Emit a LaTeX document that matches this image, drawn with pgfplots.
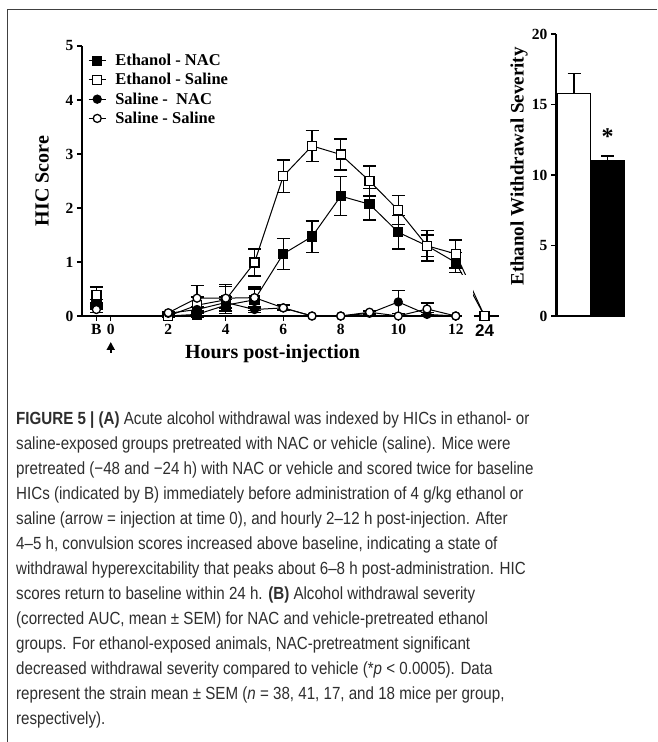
\documentclass[border=0pt]{standalone}
\usepackage{fontspec}
\setmainfont{Liberation Serif}
\newfontfamily\capfont[FakeStretch=0.86]{Liberation Sans}
\newfontfamily\sansb{Liberation Sans}
\usepackage{pgfplots}
\pgfplotsset{compat=1.18}
\usetikzlibrary{arrows.meta}

\pgfplotstableread{
x y e
-0.5 0.25 0.05
1 nan 0
2 0.00 0.03
3 0.03 0.05
4 0.20 0.10
5 0.30 0.20
6 1.15 0.29
7 1.47 0.29
8 2.22 0.36
9 2.07 0.29
10 1.55 0.31
11 1.30 0.20
12 0.99 0.19
13 0.00 0
}\EN
\pgfplotstableread{
x y e
-0.5 0.39 0.15
1 nan 0
2 0.00 0.03
3 0.20 0.15
4 0.30 0.25
5 0.99 0.25
6 2.59 0.30
7 3.15 0.29
8 2.99 0.29
9 2.50 0.28
10 1.96 0.27
11 1.30 0.28
12 1.15 0.26
13 0.00 0
}\ES
\pgfplotstableread{
x y e
-0.5 0.18 0.05
1 nan 0
2 0.05 0.02
3 0.12 0.05
4 0.25 0.10
5 0.12 0.05
6 0.15 0.04
7 0.00 0
8 0.00 0
9 0.05 0.03
10 0.26 0.21
11 0.03 0.03
12 0.00 0
}\SN
\pgfplotstableread{
x y e
-0.5 0.12 0.05
1 nan 0
2 0.06 0.02
3 0.33 0.23
4 0.33 0.25
5 0.34 0.20
6 0.15 0.05
7 0.00 0
8 0.00 0
9 0.07 0.03
10 0.00 0
11 0.13 0.11
12 0.00 0
}\SS

\begin{document}
\begin{tikzpicture}
\useasboundingbox (0pt,0pt) rectangle (657pt,742pt);
\draw[line width=0.9pt, black!75] (657pt,732.5pt) -- (7.5pt,732.5pt) -- (7.5pt,0pt);

\begin{axis}[
  at={(82pt,426pt)}, anchor=south west,
  scale only axis, width=416.9pt, height=270pt,
  xmin=-1, xmax=13.5, ymin=0, ymax=5,
  axis lines*=left,
  x axis line style={draw=none},
  y axis line style={line width=1.4pt},
  clip=false,
  tick align=outside, major tick length=5pt,
  tick style={black, line width=1.3pt},
  xtick={-0.5,0,2,4,6,8,10,12,13},
  xticklabels={B,0,2,4,6,8,10,12,{\sansb\bfseries\fontsize{17}{17}\selectfont 24}},
  ytick={0,1,2,3,4,5},
  /pgf/number format/assume math mode=true,
  tick label style={font=\bfseries\fontsize{15.5}{15.5}\selectfont},
  xlabel={Hours post-injection},
  ylabel={HIC Score},
  label style={font=\bfseries\fontsize{20}{20}\selectfont},
  x label style={at={(rel axis cs:0.457,0)}, anchor=base, yshift=-43pt},
  y label style={at={([xshift=-40pt]rel axis cs:0,0.5)}, anchor=center},
  unbounded coords=jump,
  legend style={draw=none, fill=none, at={([xshift=6pt,yshift=-6pt]rel axis cs:0,1)}, anchor=north west,
    font=\bfseries\fontsize{16.5}{16.5}\selectfont, row sep=2.3pt, inner sep=0pt},
  legend cell align=left,
  every axis plot/.append style={black, line width=1pt},
  error bars/y dir=both, error bars/y explicit,
  error bars/error bar style={line width=1.4pt},
  error bars/error mark options={rotate=90, mark size=6.5pt, line width=1.4pt},
]
\addplot[mark=square*, mark size=4.5pt, mark options={fill=black, solid, line width=1.3pt}]
  table[x=x, y=y, y error=e]{\EN};
\addlegendentry{\hspace{7pt}Ethanol - NAC}
\addplot[mark=square*, mark size=4.5pt, mark options={fill=white, solid, line width=1.3pt}]
  table[x=x, y=y, y error=e]{\ES};
\addlegendentry{\hspace{7pt}Ethanol - Saline}
\addplot[mark=*, mark size=4pt, mark options={fill=black, solid, line width=1.3pt}]
  table[x=x, y=y, y error=e]{\SN};
\addlegendentry{\hspace{7pt}Saline -\ \ NAC}
\addplot[mark=*, mark size=4pt, mark options={fill=white, solid, line width=1.3pt}]
  table[x=x, y=y, y error=e]{\SS};
\addlegendentry{\hspace{7pt}Saline - Saline}
\fill[white] (axis cs:12.22,-0.08) rectangle (axis cs:12.6,0.75);
\draw[line width=1.4pt] (axis cs:-1,0) -- (axis cs:12.2,0);
\draw[line width=1.4pt] (axis cs:12.62,0) -- (axis cs:13.5,0);
\draw[-{Triangle[length=8pt,width=8pt]}, line width=1.8pt] (axis cs:0,0) ++(0pt,-37pt) -- ++(0pt,11pt);
\end{axis}

\begin{axis}[
  at={(556pt,426pt)}, anchor=south west,
  scale only axis, width=68.3pt, height=282pt,
  xmin=-0.54, xmax=1.5, ymin=0, ymax=20,
  axis lines*=left,
  axis line style={line width=1.4pt},
  clip=false,
  tick align=outside, major tick length=5pt,
  tick style={black, line width=1.3pt},
  xtick=\empty,
  ytick={0,5,10,15,20},
  /pgf/number format/assume math mode=true,
  tick label style={font=\bfseries\fontsize{15.5}{15.5}\selectfont},
  ylabel={Ethanol Withdrawal Severity},
  y label style={font=\bfseries\fontsize{19}{19}\selectfont, at={([xshift=-37pt]rel axis cs:0,0.53)}, anchor=center},
  ybar, bar width=1,
  error bars/y dir=plus, error bars/y explicit,
  error bars/error bar style={line width=1.4pt},
  error bars/error mark options={rotate=90, mark size=6.5pt, line width=1.4pt},
]
\addplot[bar shift=0pt, fill=white, draw=black, line width=1.3pt] coordinates {(0,15.8) +- (0,1.4)};
\addplot[bar shift=0pt, fill=black, draw=black, line width=1.3pt] coordinates {(1,11.0) +- (0,0.35)};
\node[font=\bfseries\fontsize{24}{24}\selectfont, anchor=center, inner sep=0pt] at (axis cs:1,12.7) {*};
\end{axis}

\node[anchor=base west, inner sep=0pt, text=black!82] at (16pt,317pt) {%
\begin{minipage}[t]{640pt}\capfont\fontsize{17.6}{25}\selectfont\raggedright
\textbf{FIGURE 5 | (A)} Acute alcohol withdrawal was indexed by HICs in ethanol- or\\
saline-exposed groups pretreated with NAC or vehicle (saline). Mice were\\
pretreated (−48 and −24 h) with NAC or vehicle and scored twice for baseline\\
HICs (indicated by B) immediately before administration of 4 g/kg ethanol or\\
saline (arrow = injection at time 0), and hourly 2–12 h post-injection. After\\
4–5 h, convulsion scores increased above baseline, indicating a state of\\
withdrawal hyperexcitability that peaks about 6–8 h post-administration. HIC\\
scores return to baseline within 24 h. \textbf{(B)} Alcohol withdrawal severity\\
(corrected AUC, mean ± SEM) for NAC and vehicle-pretreated ethanol\\
groups. For ethanol-exposed animals, NAC-pretreatment significant\\
decreased withdrawal severity compared to vehicle (*\textit{p} < 0.0005). Data\\
represent the strain mean ± SEM (\textit{n} = 38, 41, 17, and 18 mice per group,\\
respectively).
\end{minipage}};
\end{tikzpicture}
\end{document}
